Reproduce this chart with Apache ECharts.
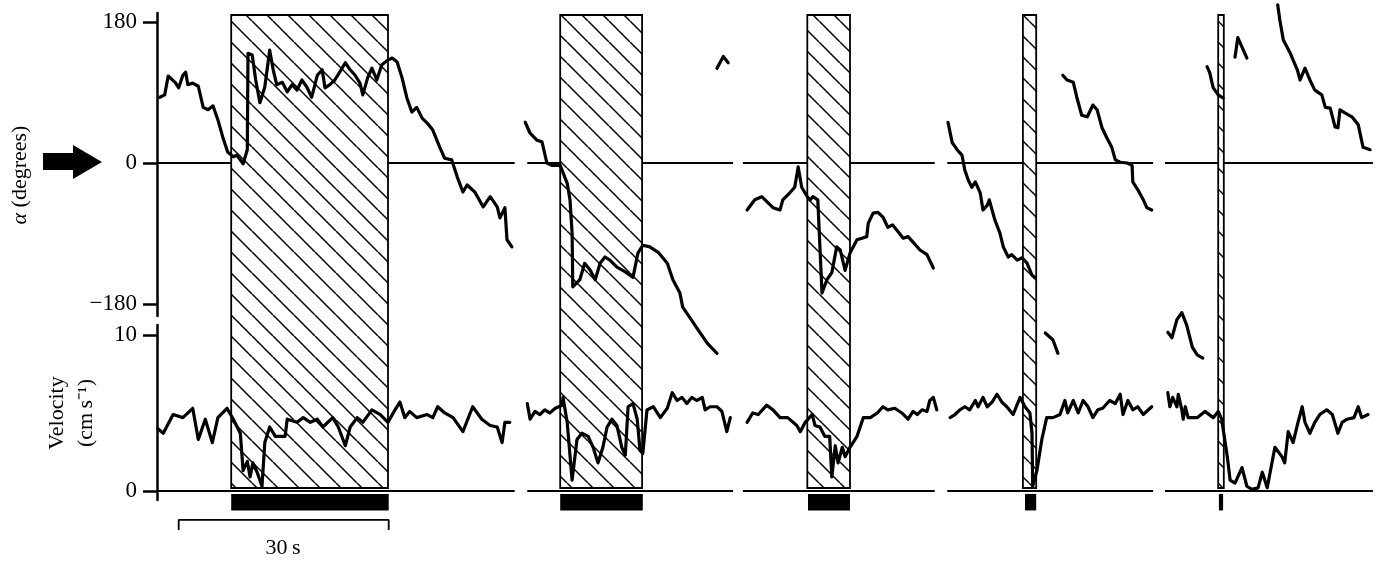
<!DOCTYPE html>
<html>
<head>
<meta charset="utf-8">
<script src="https://cdn.jsdelivr.net/npm/echarts@6/dist/echarts.min.js"></script>
<style>
html,body{margin:0;padding:0;background:#fff;}
#c{width:1382px;height:561px;}
</style>
</head>
<body>
<div id="c"></div>
<script>
// ---- data (time in s, alpha in degrees, velocity in cm/s) ----
const stimuli   = [[10.6, 33.0], [57.6, 69.3], [92.9, 99.0], [123.7, 125.6], [151.6, 152.4]];
const stimBars  = [[10.6, 33.1], [57.6, 69.4], [93.0, 99.0], [124.0, 125.6], [151.7, 152.3]];
const panelSpans = [[0, 51.1], [52.9, 82.3], [83.7, 111.1], [112.9, 142.3], [144.0, 173.7]];
const alphaTicks = [180, 0, -180];
const velTicks = [10, 0];
const scaleBar = [3.1, 33.1]; // 30 s

const alpha1 = [[0.4,84],[1.1,87],[1.6,111],[2.6,103],[3.1,96],[3.7,112],[4.1,116],[4.4,100],[5.1,102],[5.9,98],[6.6,71],[7.3,68],[8.0,73],[8.7,55],[9.4,33],[10.1,14],[10.9,8],[11.4,10],[12.3,-1],[12.9,17],[13.0,140],[13.6,138],[14.1,106],[14.7,77],[15.4,97],[16.1,144],[16.6,119],[17.1,100],[17.9,103],[18.6,91],[19.3,100],[20.0,93],[20.7,106],[21.4,97],[22.1,84],[22.9,112],[23.6,119],[24.0,96],[24.7,100],[25.4,106],[26.1,116],[26.9,128],[27.6,119],[28.3,112],[29.0,102],[29.4,87],[30.1,109],[30.7,121],[31.4,106],[32.1,125],[32.9,131],[33.6,134],[34.3,129],[35.0,109],[35.7,83],[36.4,65],[37.1,71],[37.9,57],[38.6,51],[39.4,42],[40.4,20],[41.1,6],[42.1,4],[42.9,-18],[43.7,-37],[44.3,-28],[45.4,-37],[46.6,-56],[47.6,-43],[48.6,-56],[49.0,-70],[49.7,-57],[50.0,-98],[50.7,-107]];
const alpha2 = [[52.6,52],[53.3,38],[54.3,29],[55.0,27],[55.7,0],[56.4,-3],[57.6,-3],[58.6,-26],[59.0,-47],[59.3,-89],[59.4,-158],[60.4,-149],[61.1,-128],[61.9,-137],[62.6,-149],[63.3,-128],[64.0,-120],[64.7,-124],[65.7,-133],[66.9,-139],[68.0,-146],[68.7,-115],[69.4,-105],[70.4,-107],[71.6,-114],[72.9,-128],[73.7,-149],[74.7,-166],[75.1,-184],[76.1,-197],[77.3,-213],[78.6,-230],[80.0,-243]];
const alpha2b = [[80.0,121],[80.9,136],[81.6,128]];
const alpha3 = [[84.3,-60],[85.4,-47],[86.4,-43],[87.3,-51],[88.0,-57],[89.0,-60],[89.4,-47],[90.4,-38],[91.1,-31],[91.6,-5],[92.1,-31],[92.9,-43],[93.3,-47],[93.7,-43],[94.4,-47],[95.0,-166],[95.7,-149],[96.4,-140],[97.1,-107],[97.6,-111],[98.3,-137],[99.0,-115],[100.0,-98],[100.7,-96],[101.4,-94],[101.6,-77],[102.3,-64],[103.0,-63],[103.7,-69],[104.4,-82],[105.1,-79],[105.9,-88],[106.6,-96],[107.3,-94],[108.0,-101],[109.0,-111],[110.0,-117],[110.9,-134]];
const alpha4a = [[113.0,52],[113.6,26],[114.3,17],[115.0,10],[115.4,-9],[115.9,-22],[116.4,-31],[116.9,-24],[117.6,-38],[118.0,-60],[118.6,-54],[118.9,-47],[119.7,-73],[120.4,-89],[120.9,-107],[121.6,-120],[122.1,-117],[122.9,-124],[123.6,-121],[124.3,-128],[125.0,-143],[125.4,-146]];
const alpha4b = [[126.9,-217],[128.0,-226],[128.7,-243]];
const alpha4c = [[129.4,112],[130.0,106],[130.9,103],[131.4,84],[132.1,61],[132.9,59],[133.7,74],[134.3,68],[135.0,45],[135.7,32],[136.4,20],[136.9,4],[137.6,1],[138.6,0],[139.3,-3],[139.4,-24],[140.1,-34],[140.9,-47],[141.4,-57],[142.1,-60]];
const alpha5a = [[150.0,123],[150.4,115],[150.7,103],[150.9,96],[151.6,87],[152.3,83]];
const alpha5b = [[154.0,135],[154.4,160],[155.7,134]];
const alpha5c = [[160.1,202],[160.4,183],[160.9,157],[161.9,140],[162.9,119],[163.3,106],[164.0,121],[164.7,106],[165.4,93],[166.4,87],[166.9,71],[167.6,70],[168.3,46],[168.7,45],[169.0,68],[169.7,64],[170.7,59],[171.6,49],[172.3,20],[173.3,17]];
const alpha5d = [[144.4,-216],[145.0,-223],[145.7,-200],[146.4,-191],[147.1,-207],[147.9,-235],[148.6,-245],[149.4,-249]];

const vel1 = [[0.1,4.0],[0.9,3.7],[2.3,4.9],[3.7,4.7],[5.1,5.3],[5.9,3.3],[6.9,4.6],[7.9,3.1],[8.7,4.7],[10.0,5.3],[10.9,4.6],[11.9,3.7],[12.3,1.3],[12.9,1.9],[13.3,0.9],[13.7,1.8],[14.3,1.2],[15.0,0.3],[15.4,3.1],[16.1,4.1],[16.9,3.5],[18.3,3.5],[18.6,4.6],[20.0,4.4],[20.9,4.7],[21.9,4.4],[22.9,4.6],[23.7,4.1],[25.1,4.7],[25.9,4.1],[26.9,2.9],[27.6,4.1],[28.6,4.7],[29.4,4.4],[30.7,5.2],[31.9,4.9],[33.0,4.4],[34.0,5.2],[34.7,5.7],[35.4,4.7],[36.1,5.1],[37.1,4.7],[38.6,4.9],[39.4,4.7],[40.1,5.4],[41.1,5.0],[42.3,4.7],[43.7,3.8],[45.1,5.4],[46.4,4.6],[47.6,4.2],[48.6,4.1],[49.3,3.1],[49.7,4.4],[50.4,4.4]];
const vel2 = [[52.9,5.6],[53.3,4.6],[54.0,5.1],[54.7,4.9],[55.4,5.2],[56.1,5.0],[56.9,5.3],[57.9,5.5],[58.0,6.0],[58.6,4.4],[59.3,0.7],[60.0,3.3],[60.7,3.7],[61.6,3.5],[62.3,2.8],[63.0,1.8],[63.7,2.8],[64.3,4.1],[65.0,4.6],[65.7,4.2],[66.4,2.8],[66.9,2.3],[67.3,5.4],[68.0,5.6],[68.6,4.6],[69.0,2.6],[69.4,2.4],[70.0,5.2],[70.9,5.4],[71.9,4.7],[72.9,5.3],[73.6,6.3],[74.3,5.8],[75.0,6.0],[75.7,5.6],[76.4,6.0],[77.1,5.8],[77.9,6.0],[78.3,5.2],[79.0,5.4],[80.0,5.4],[80.7,5.1],[81.4,3.8],[81.9,4.7]];
const vel3 = [[84.3,4.4],[85.1,5.0],[85.9,4.9],[87.1,5.5],[88.0,5.2],[89.0,4.7],[90.1,4.7],[91.4,4.2],[91.9,3.8],[92.6,4.4],[93.6,4.9],[94.0,4.2],[94.7,4.1],[95.4,3.5],[96.1,3.5],[96.4,0.9],[96.9,2.9],[97.3,1.8],[97.9,2.8],[98.3,2.2],[99.0,2.8],[100.0,3.5],[100.9,4.7],[101.9,4.7],[102.9,5.0],[103.7,5.4],[104.4,5.2],[105.4,5.3],[106.4,5.0],[107.3,4.6],[108.0,5.1],[108.6,4.9],[109.3,5.2],[110.0,5.1],[110.4,5.8],[110.9,6.0],[111.4,5.2]];
const vel4 = [[113.3,4.7],[114.0,4.9],[114.7,5.2],[115.4,5.4],[116.1,5.2],[116.9,5.8],[117.3,5.4],[118.0,6.0],[118.6,5.4],[119.3,5.7],[120.0,6.2],[120.7,5.7],[121.4,5.4],[122.3,4.9],[123.3,6.0],[124.0,5.4],[124.7,5.0],[125.0,3.7],[125.1,0.3],[125.7,1.3],[126.4,3.3],[127.1,4.7],[128.0,4.7],[129.0,4.9],[129.7,5.8],[130.1,5.0],[130.9,5.8],[131.6,5.0],[132.3,5.8],[133.0,5.4],[133.7,4.7],[134.4,5.2],[135.1,5.3],[136.1,5.8],[136.9,5.6],[137.6,6.2],[138.0,4.9],[138.7,5.8],[139.4,5.2],[140.1,5.4],[140.9,4.9],[142.1,5.4]];
const vel5 = [[144.4,6.3],[144.7,5.4],[145.1,6.0],[145.7,5.4],[145.9,6.2],[146.4,5.2],[146.6,4.6],[146.9,5.4],[147.3,4.7],[148.6,4.7],[149.7,5.1],[150.9,4.7],[151.6,5.1],[152.1,4.6],[152.9,2.2],[153.3,0.7],[154.0,0.5],[155.0,1.5],[155.7,0.3],[156.4,0.1],[157.3,0.2],[157.9,1.2],[158.6,0.2],[159.7,2.8],[160.7,2.2],[161.1,1.8],[161.6,3.8],[162.3,3.1],[163.0,4.4],[163.6,5.4],[164.0,4.4],[164.7,3.7],[165.4,4.4],[166.1,4.9],[167.1,5.2],[167.9,4.9],[168.7,3.7],[169.3,4.4],[170.0,4.6],[171.0,4.7],[171.6,5.4],[172.1,4.7],[173.0,4.9]];

const alphaSegments = [alpha1, alpha2, alpha2b, alpha3, alpha4a, alpha4b, alpha4c, alpha5a, alpha5b, alpha5c, alpha5d];
const velSegments = [vel1, vel2, vel3, vel4, vel5];

// ---- rendering ----
const FONT = 'Liberation Serif, Times New Roman, Tinos, serif';
const chart = echarts.init(document.getElementById('c'), null, {renderer: 'canvas'});

// hatch pattern
const S = 21;
const pc = document.createElement('canvas');
pc.width = S; pc.height = S;
const g = pc.getContext('2d');
g.strokeStyle = '#000'; g.lineWidth = 1.5;
for (let k = -1; k <= 1; k++) {
  g.beginPath(); g.moveTo(k * S, 0); g.lineTo(k * S + S, S); g.stroke();
}
const hatch = {type: 'pattern', image: pc, repeat: 'repeat'};

const gridBase = {left: 157, width: 1218, outerBoundsMode: 'none', containLabel: false};
const xBase = {type: 'value', min: 0, max: 174, show: false};

function traceSeries(data, idx) {
  return {type: 'line', xAxisIndex: idx, yAxisIndex: idx, data: data, symbol: 'none', showSymbol: false,
    clip: false, silent: true, z: 5,
    lineStyle: {color: '#000', width: 3.2, join: 'round', cap: 'round'}};
}
const series = [];
panelSpans.forEach(s => {
  [0, 1].forEach(idx => series.push({type: 'line', xAxisIndex: idx, yAxisIndex: idx,
    data: [[s[0], 0], [s[1], 0]], symbol: 'none', silent: true, z: 1, clip: false,
    lineStyle: {color: '#000', width: 2}}));
});
series.push({type: 'custom', xAxisIndex: 2, yAxisIndex: 2, data: stimuli, z: 3, silent: true, clip: false,
  encode: {x: [0, 1]},
  renderItem: function (params, api) {
    const p0 = api.coord([api.value(0), 1]);
    const p1 = api.coord([api.value(1), 0]);
    const shape = {x: p0[0], y: p0[1], width: p1[0] - p0[0], height: p1[1] - p0[1]};
    return {type: 'group', children: [
      {type: 'rect', shape: shape, style: {fill: '#fff'}},
      {type: 'rect', shape: shape, style: {fill: hatch, stroke: '#000', lineWidth: 1.8}}
    ]};
  }});
series.push({type: 'custom', xAxisIndex: 1, yAxisIndex: 1, data: stimBars, z: 4, silent: true, clip: false,
  encode: {x: [0, 1]},
  renderItem: function (params, api) {
    const p0 = api.coord([api.value(0), -0.19]);
    const p1 = api.coord([api.value(1), -1.25]);
    return {type: 'rect', shape: {x: p0[0], y: p0[1], width: p1[0] - p0[0], height: p1[1] - p0[1]},
      style: {fill: '#000'}};
  }});
alphaSegments.forEach(d => series.push(traceSeries(d, 0)));
velSegments.forEach(d => series.push(traceSeries(d, 1)));
series.push({type: 'line', xAxisIndex: 1, yAxisIndex: 1, symbol: 'none', silent: true, clip: false, z: 4,
  data: [[scaleBar[0], -2.5], [scaleBar[0], -1.86], [scaleBar[1], -1.86], [scaleBar[1], -2.5]],
  lineStyle: {color: '#000', width: 1.8}});

const axisCommon = {
  type: 'value', splitLine: {show: false},
  axisLine: {show: true, onZero: false, lineStyle: {color: '#000', width: 2.5}},
};

chart.setOption({
  animation: false,
  backgroundColor: '#fff',
  grid: [
    Object.assign({top: 13, height: 303}, gridBase),
    Object.assign({top: 325, height: 175}, gridBase),
    Object.assign({top: 15, height: 473}, gridBase)
  ],
  xAxis: [Object.assign({gridIndex: 0}, xBase), Object.assign({gridIndex: 1}, xBase), Object.assign({gridIndex: 2}, xBase)],
  yAxis: [
    Object.assign({}, axisCommon, {gridIndex: 0, min: -195.3, max: 191.5,
      axisTick: {show: true, length: 14, customValues: alphaTicks, lineStyle: {color: '#000', width: 2.5}},
      axisLabel: {show: true, customValues: alphaTicks, margin: 20, color: '#000', fontFamily: FONT, fontSize: 23,
        formatter: v => v < 0 ? '\u2212' + (-v) : String(v)}}),
    Object.assign({}, axisCommon, {gridIndex: 1, min: -0.58, max: 10.64,
      axisTick: {show: true, length: 14, customValues: velTicks, lineStyle: {color: '#000', width: 2.5}},
      axisLabel: {show: true, customValues: velTicks, margin: 20, color: '#000', fontFamily: FONT, fontSize: 23}}),
    {type: 'value', gridIndex: 2, min: 0, max: 1, show: false}
  ],
  graphic: [
    {type: 'polygon', shape: {points: [[43,153],[73,153],[73,145],[102,162],[73,179],[73,170],[43,170]]},
      style: {fill: '#000'}},
    {type: 'text', x: 20, y: 175, rotation: Math.PI / 2,
      style: {text: '{i|\u03b1} (degrees)', align: 'center', verticalAlign: 'middle', fill: '#000',
        fontSize: 22, fontFamily: FONT, rich: {i: {fontStyle: 'italic', fontSize: 22, fontFamily: FONT, fill: '#000'}}}},
    {type: 'text', x: 57, y: 413, rotation: Math.PI / 2,
      style: {text: 'Velocity', align: 'center', verticalAlign: 'middle', fill: '#000', fontSize: 22, fontFamily: FONT}},
    {type: 'text', x: 86, y: 413, rotation: Math.PI / 2,
      style: {text: '(cm\u2009s\u207b\u00b9)', align: 'center', verticalAlign: 'middle', fill: '#000', fontSize: 22, fontFamily: FONT}},
    {type: 'text', x: 283, y: 548,
      style: {text: '30\u2009s', align: 'center', verticalAlign: 'middle', fill: '#000', fontSize: 22, fontFamily: FONT}}
  ],
  series: series
});
</script>
</body>
</html>
